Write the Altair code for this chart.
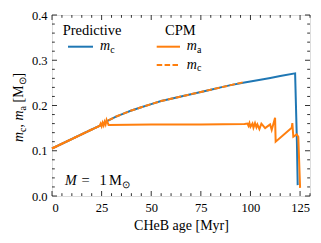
import altair as alt
import pandas as pd

# ---- data ----
pred_t = [0, 10, 20, 25, 28, 32, 36, 40, 45, 50, 55, 60, 65, 70, 75, 80, 85, 90, 97, 105, 110, 115, 122.5, 123.4, 123.8]
pred_mc = [0.105, 0.126, 0.147, 0.157, 0.166, 0.175, 0.182, 0.189, 0.196, 0.203, 0.210, 0.215, 0.220, 0.225, 0.230, 0.235, 0.240, 0.245, 0.251, 0.257, 0.261, 0.265, 0.271, 0.12, 0.024]

cpm_mc_t = [0, 10, 20, 25, 28, 32, 36, 40, 45, 50, 55, 60, 65, 70, 75, 80, 85, 90, 97]
cpm_mc = [0.105, 0.126, 0.147, 0.157, 0.166, 0.175, 0.182, 0.189, 0.196, 0.203, 0.210, 0.215, 0.220, 0.225, 0.230, 0.235, 0.240, 0.245, 0.252]

cpm_ma_t = [0, 24, 24.5, 25, 25.5, 26, 26.5, 27, 27.5, 28.5, 50, 75, 97, 98.5, 99, 99.5, 100, 101, 101.5, 102.3, 103, 103.5,
            104.5, 105.5, 107.4, 109.9, 110.7, 112.4, 112.7, 120.8, 121.1, 121.6, 123.3, 124.1, 125]
cpm_ma = [0.105, 0.155, 0.160, 0.154, 0.162, 0.156, 0.164, 0.158, 0.168, 0.157, 0.158, 0.158, 0.159, 0.160, 0.155, 0.161, 0.153, 0.160, 0.151, 0.161, 0.152, 0.158,
          0.148, 0.160, 0.150, 0.158, 0.146, 0.173, 0.120, 0.151, 0.161, 0.131, 0.136, 0.131, 0.018]

x_major = [0, 25, 50, 75, 100, 125]
x_minor = [v for v in range(0, 131, 5) if v % 25 != 0]
y_major = [0.0, 0.1, 0.2, 0.3, 0.4]
y_minor = [round(0.02 * i, 2) for i in range(0, 21) if i % 5 != 0]

W, H = 258, 181
FONT = "Liberation Serif"
BLUE = "#1f77b4"
ORANGE = "#ff7f0e"

xs = alt.Scale(domain=[0, 130], nice=False, zero=False)
ys = alt.Scale(domain=[0, 0.4], nice=False)

df_pred = pd.DataFrame({"t": pred_t, "m": pred_mc})
df_cmc = pd.DataFrame({"t": cpm_mc_t, "m": cpm_mc})
df_cma = pd.DataFrame({"t": cpm_ma_t, "m": cpm_ma})

xaxis = alt.Axis(values=x_major, ticks=False, domain=False, grid=False, labelFont=FONT, labelFontSize=12.5,
                 labelPadding=5, labelColor="black", title="CHeB age [Myr]", titleFont=FONT, titleFontSize=14,
                 titleFontWeight="normal", titleColor="black", titlePadding=5)
yaxis = alt.Axis(values=y_major, format=".1f", ticks=False, domain=False, grid=False, labelFont=FONT,
                 labelFontSize=12.5, labelPadding=5, labelColor="black", title=None)

base_x = alt.X("t:Q", scale=xs, axis=xaxis)
base_y = alt.Y("m:Q", scale=ys, axis=yaxis)

pred_line = alt.Chart(df_pred).mark_line(color=BLUE, strokeWidth=2).encode(x=base_x, y=base_y)
ma_line = alt.Chart(df_cma).mark_line(color=ORANGE, strokeWidth=2).encode(x="t:Q", y="m:Q")
mc_line = alt.Chart(df_cmc).mark_line(color=ORANGE, strokeWidth=2, strokeDash=[5.5, 2.4]).encode(x="t:Q", y="m:Q")

# ticks (inward, all four sides)
def xticks(vals, length):
    d = pd.DataFrame({"t": vals})
    b = alt.Chart(d).mark_rule(color="black", strokeWidth=0.8).encode(
        x="t:Q", y=alt.value(H), y2=alt.value(H - length))
    t = alt.Chart(d).mark_rule(color="black", strokeWidth=0.8).encode(
        x="t:Q", y=alt.value(0), y2=alt.value(length))
    return b + t

def yticks(vals, length):
    d = pd.DataFrame({"m": vals})
    l = alt.Chart(d).mark_rule(color="black", strokeWidth=0.8).encode(
        y="m:Q", x=alt.value(0), x2=alt.value(length))
    r = alt.Chart(d).mark_rule(color="black", strokeWidth=0.8).encode(
        y="m:Q", x=alt.value(W), x2=alt.value(W - length))
    return l + r

ticks = xticks(x_major, 5) + xticks(x_minor, 2.8) + yticks(y_major, 5) + yticks(y_minor, 2.8)

# legend samples
leg_blue = alt.Chart(df_pred.head(1)).mark_rule(color=BLUE, strokeWidth=2).encode(
    x=alt.value(16), x2=alt.value(41), y=alt.value(31.7))
leg_or = alt.Chart(df_pred.head(1)).mark_rule(color=ORANGE, strokeWidth=2).encode(
    x=alt.value(104.7), x2=alt.value(128), y=alt.value(31.7))
leg_dash = alt.Chart(df_pred.head(1)).mark_rule(color=ORANGE, strokeWidth=2, strokeDash=[5.5, 2.4]).encode(
    x=alt.value(104.7), x2=alt.value(128), y=alt.value(50))

def texts(txt, px, py, size, style="normal", angle=0):
    d = pd.DataFrame({"txt": txt, "px": px, "py": py})
    kw = dict(font=FONT, fontSize=size, fontStyle=style, align="left", baseline="alphabetic", color="black")
    if angle:
        kw["angle"] = angle
    return alt.Chart(d).mark_text(**kw).encode(
        x=alt.X("px:Q", scale=None), y=alt.Y("py:Q", scale=None), text="txt:N")

roman_txt = ["Predictive", "CPM", "=", "1", "M"]
roman_x = [10.7, 113, 29.5, 47.5, 57]
roman_y = [19.5, 19.5, 169.5, 169.5, 169.5]
roman_s = 14.5
ital_txt = ["m", "m", "m", "M"]
ital_x = [48, 134.7, 134.7, 13]
ital_y = [35, 35, 53.5, 169.5]
sub_txt = ["c", "a", "c", "⊙"]
sub_x = [58.3, 145, 145, 70]
sub_y = [37.5, 37.5, 56, 172.5]

# rotated y-axis title pieces: m_c, m_a [M_sun]
yt_r_txt = [",", "[M", "]"]
yt_r_x = [-29, -29, -29]
yt_r_y = [112.5, 87.5, 62.4]
yt_i_txt = ["m", "m"]
yt_i_x = [-29, -29]
yt_i_y = [127, 105.5]
yt_s_txt = ["c", "a", "⊙"]
yt_s_x = [-26, -26, -26]
yt_s_y = [116.9, 95.4, 70.4]

labels = (texts(roman_txt, roman_x, roman_y, roman_s)
          + texts(ital_txt, ital_x, ital_y, 14, "italic")
          + texts(sub_txt, sub_x, sub_y, 10)
          + texts(yt_r_txt, yt_r_x, yt_r_y, 14, angle=270)
          + texts(yt_i_txt, yt_i_x, yt_i_y, 14, "italic", angle=270)
          + texts(yt_s_txt, yt_s_x, yt_s_y, 10, angle=270))

chart = alt.layer(pred_line, ma_line, mc_line, ticks, leg_blue, leg_or, leg_dash, labels).properties(
    width=W, height=H,
    autosize=alt.AutoSizeParams(type="none"),
    padding={"left": 44, "top": 7, "right": 2, "bottom": 39},
).configure_view(stroke="black", strokeWidth=1).configure(background="white")

chart.save("out.html", embed_options={"renderer": "svg", "actions": False})
